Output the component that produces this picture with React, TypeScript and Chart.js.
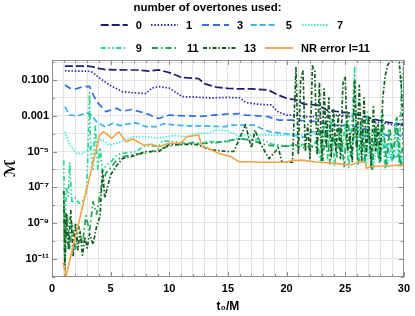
import React, { useEffect, useRef } from 'react';
import { Chart, registerables } from 'chart.js';

Chart.register(...registerables);

const FONT = '"Liberation Sans", Arial, Helvetica, sans-serif';

// ---------- data: each point is [t0/M, log10(mismatch)] ----------
const overtones0: [number, number][] = [
  [1.1, -0.22], [2, -0.22], [3, -0.22], [3.4, -0.25], [4, -0.35], [4.6, -0.42], [5.5, -0.43], [6.5, -0.44],
  [7.2, -0.44], [8.3, -0.5], [9.1, -0.43], [10.2, -0.62], [11, -0.85], [12, -0.9], [12.5, -0.92], [13, -1.2],
  [14, -1.4], [15, -1.47], [16, -1.5], [17, -1.5], [18.4, -1.55], [19.3, -1.84], [20.1, -2.05], [20.7, -2.1],
  [21.5, -2.35], [22.7, -2.4], [23.5, -2.7], [25.4, -2.85], [26.5, -3.0], [27.5, -3.2], [28.5, -3.35], [30, -3.5],
];
const overtones1: [number, number][] = [
  [1.1, -0.48], [2, -0.5], [3, -0.5], [3.4, -0.55], [4.06, -0.89], [4.9, -1.28], [6, -1.65], [7, -1.72],
  [8, -1.75], [8.5, -1.45], [9.1, -1.37], [10, -1.45], [11.1, -1.93], [12.2, -1.95], [13.5, -2.0], [15, -1.97],
  [16, -2.0], [16.5, -2.25], [17.5, -2.35], [18.7, -2.4], [19.3, -2.8], [20, -2.96], [20.7, -2.98], [21.5, -3.05],
  [23.5, -3.05], [24.5, -2.95], [25.4, -3.05], [26.5, -3.2], [27.5, -3.35], [28.3, -3.4], [29, -3.5], [30, -3.55],
];
const overtones3: [number, number][] = [
  [1.1, -1.28], [1.5, -1.45], [2, -1.5], [2.6, -1.38], [3.2, -1.35], [3.5, -1.8], [3.8, -2.2], [4.6, -2.77],
  [5.5, -2.58], [6, -2.75], [6.8, -2.65], [8, -2.87], [9.1, -3.15], [10, -2.96], [11.1, -3.0], [12.8, -3.03],
  [14, -2.95], [15, -2.9], [16, -2.88], [16.5, -2.96], [18.4, -3.05], [19.3, -3.24], [20.7, -3.24], [22, -3.3],
  [22.7, -3.33], [23.5, -3.52], [25.4, -3.55], [26.5, -3.7], [27.5, -3.9], [28.5, -4.1], [29.3, -4.0], [30, -4.2],
];
const overtones5: [number, number][] = [
  [1.1, -2.49], [1.5, -2.96], [2.2, -3.0], [2.9, -2.85], [3.2, -2.85], [3.8, -3.33], [4.5, -3.61], [5.2, -3.42],
  [5.8, -3.55], [6.5, -3.45], [7.2, -3.4], [8, -3.61], [8.9, -3.61], [9.5, -3.45], [10.6, -3.52], [11.5, -3.57],
  [13, -3.57], [14.2, -3.6], [14.8, -3.61], [15.3, -3.52], [17.2, -3.52], [17.8, -3.7], [18.6, -3.9], [19.9, -4.0],
  [21.4, -4.2], [22.1, -3.9], [23.5, -3.85], [24, -3.82], [26, -3.8], [26.5, -4.0], [27, -4.5], [27.5, -4.3],
  [28, -5.0], [28.5, -4.6], [29, -5.5], [29.5, -5.2], [30, -5.8],
];
const overtones7: [number, number][] = [
  [1.1, -3.89], [1.5, -4.64], [2.1, -5.1], [2.7, -5.1], [3.2, -4.82], [3.8, -4.36], [4.3, -4.36], [4.9, -4.64],
  [5.7, -4.5], [6.9, -4.17], [8, -4.17], [9.1, -4.25], [10.4, -4.1], [11.4, -4.17], [12.4, -3.98], [13.3, -3.98],
  [14, -3.8], [15, -3.85], [16, -4.17], [16.5, -4.08], [18, -4.08], [20, -4.08], [22, -4.05], [23.5, -4.08],
  [24, -4.6], [25.4, -4.8], [25.8, -4.2], [26.2, -5.5], [26.5, -3.9], [26.8, -5.8], [27.1, -4.5], [27.4, -6.0],
  [27.7, -4.3], [28, -5.6], [28.3, -4.0], [28.6, -5.9], [28.9, -4.6], [29.2, -5.3], [29.5, -4.2], [29.8, -5.7], [30, -4.8],
];
const overtones9: [number, number][] = [
  [1.0, -5.5], [1.1, -11.0], [1.2, -7.0], [1.4, -7.5], [1.5, -5.6], [1.7, -7.9], [2.0, -7.6], [2.3, -7.9],
  [2.6, -7.8], [2.9, -7.3], [3.05, -5.5], [3.2, -1.7], [3.3, -5.0], [3.5, -6.0], [3.7, -3.5], [3.9, -6.0],
  [4.1, -4.8], [4.3, -6.1], [4.6, -5.8], [5.0, -5.6], [5.5, -5.2], [6.0, -5.1], [7.2, -5.0], [7.8, -4.7],
  [9.1, -4.7], [9.4, -4.4], [11, -4.5], [11.5, -4.55], [12.8, -4.6], [13, -4.45], [15, -4.45], [15.5, -4.3],
  [17, -4.3], [18, -4.35], [18.8, -4.6], [20, -4.7], [20.7, -4.7], [21.5, -4.6], [22.3, -4.7],
  [22.6, -4.3], [22.9, -5.6], [23.2, -3.6], [23.5, -5.4], [23.8, -3.2], [24.1, -5.8], [24.4, -3.8], [24.7, -5.2],
  [25.0, -3.4], [25.3, -5.9], [25.6, -3.0], [25.8, -0.3], [26.0, -5.2], [26.3, -3.5], [26.6, -5.6], [26.9, -2.8],
  [27.2, -5.8], [27.5, -3.6], [27.8, -5.3], [28.1, -3.0], [28.4, -6.0], [28.7, -3.8], [29.0, -5.5], [29.3, -3.2],
  [29.6, -5.8], [29.8, -1.0], [30, -0.2],
];
const overtones11: [number, number][] = [
  [1.0, -8.0], [1.1, -11.2], [1.3, -8.5], [1.5, -10.5], [1.7, -9.0], [2.0, -10.5], [2.3, -9.2], [2.6, -10.2],
  [2.9, -8.6], [3.2, -9.5], [3.5, -7.8], [3.8, -8.5], [4.2, -7.0], [4.6, -6.2], [5.0, -5.9], [5.5, -5.5],
  [6, -5.3], [7, -5.15], [8, -5.1], [9, -4.9], [10, -4.7], [11, -4.6], [12, -4.5], [13, -4.55],
  [14, -4.5], [15, -4.4], [16, -4.3], [17, -4.35], [18, -4.6], [19, -4.7], [20, -4.7], [20.7, -4.6],
  [21.3, -4.8], [22, -4.7],
  [22.5, -4.8], [22.8, -3.8], [23.1, -5.5], [23.4, -3.3], [23.7, -5.7], [24.0, -4.0], [24.3, -5.3], [24.6, -3.5],
  [24.9, -5.9], [25.2, -2.8], [25.5, -5.4], [25.8, -3.6], [26.1, -5.8], [26.4, -3.2], [26.7, -5.5], [27.0, -3.9],
  [27.3, -6.0], [27.6, -3.4], [27.9, -5.6], [28.2, -2.9], [28.5, -5.8], [28.8, -3.7], [29.1, -5.4], [29.4, -3.1],
  [29.7, -5.9], [30, -4.0],
];
const overtones13: [number, number][] = [
  [1.0, -7.2], [1.1, -11.6], [1.2, -8.5], [1.4, -10.5], [1.6, -8.3], [1.8, -10.9], [2.0, -9.0], [2.2, -10.5],
  [2.4, -9.5], [2.6, -10.8], [2.8, -9.8], [3.0, -10.4], [3.2, -9.6], [3.5, -10.2], [3.8, -9.2], [4.1, -8.6],
  [4.3, -6.0], [4.5, -7.6], [5.0, -6.3], [5.5, -5.8], [6, -5.4], [7.2, -5.2], [8, -5.0], [9.1, -5.0],
  [10, -4.6], [12, -4.6], [12.5, -4.64], [13.5, -4.9], [15, -5.0], [15.5, -5.0], [16.5, -3.5], [17, -4.8],
  [17.3, -3.8], [17.8, -4.6], [18.5, -5.4], [19.3, -4.8], [19.6, -5.6], [20.3, -5.6],
  [20.5, -5.6], [20.8, -0.3], [21.0, -5.2], [21.2, -1.0], [21.4, -0.5], [21.6, -5.0], [21.8, -3.5], [22.0, -5.4],
  [22.2, -0.2], [22.4, -0.5], [22.6, -5.2], [22.8, -1.2], [23.0, -5.5], [23.2, -1.5], [23.4, -4.8], [23.6, -2.0],
  [23.8, -5.3], [24.0, -2.6], [24.2, -5.0], [24.4, -3.0], [24.6, -5.4], [24.8, -1.2], [25.0, -0.8], [25.2, -5.0],
  [25.4, -4.0], [25.6, -5.6], [25.8, -1.0], [26.0, -4.8], [26.2, -1.3], [26.4, -5.5], [26.6, -2.0], [26.8, -5.2],
  [27.0, -3.0], [27.2, -5.9], [27.4, -2.5], [27.6, -5.0], [27.8, -3.5], [28.0, -5.5], [28.2, -2.0], [28.4, -0.8],
  [28.6, -0.2], [28.8, 0.05], [29.0, 0.1], [29.2, 0.12], [29.4, 0.1], [29.6, 0.0], [29.8, -1.5], [30, -5.0],
];
const nrError11: [number, number][] = [
  [0.95, -11.2], [1.2, -11.95], [3.4, -5.9], [4.06, -4.08], [4.4, -3.9], [4.8, -4.1], [5.1, -4.26], [5.7, -3.9],
  [6.3, -4.45], [6.9, -4.3], [7.8, -4.64], [8.5, -4.6], [9.1, -4.73], [10, -4.54], [11, -4.54], [11.5, -4.17],
  [12.5, -4.08], [12.8, -4.73], [13.3, -4.82], [14.2, -5.1], [15.3, -5.3], [15.9, -5.57], [17, -5.57], [17.6, -5.6],
  [19.9, -5.6], [20.5, -5.5], [21.3, -5.48], [22.7, -5.6], [24, -5.65], [25.4, -5.75], [26.3, -5.57], [26.7, -5.6],
  [26.8, -5.94], [27.2, -5.85], [28.5, -5.8], [30, -5.76],
];

const seriesLabels = ['0', '1', '3', '5', '7', '9', '11', '13', 'NR error l=11'];
const seriesData = [overtones0, overtones1, overtones3, overtones5, overtones7, overtones9, overtones11, overtones13, nrError11];

// ---------- axis ticks ----------
const xGridValues = [0, 1, 2, 3, 4, 5, 6, 7, 8, 9, 10, 11, 12, 13, 14, 15, 16, 17, 18, 19, 20, 21, 22, 23, 24, 25, 26, 27, 28, 29, 30];
const xLabelValues = [0, 5, 10, 15, 20, 25, 30];
const yTickExponents = [-12, -11, -10, -9, -8, -7, -6, -5, -4, -3, -2, -1, 0];
const yTickLabels = ['', '10⁻¹¹', '', '10⁻⁹', '', '10⁻⁷', '', '10⁻⁵', '', '0.001', '', '0.100', ''];

// ---------- styles ----------
const seriesColors = ['#1e1e6e', '#2c2cb8', '#2f6fe8', '#3ab4f2', '#40f0d8', '#24d88c', '#22a050', '#135c20', '#f7a248'];
const seriesDashes = [[8, 3], [1.5, 1.8], [7, 4], [6, 3], [1.5, 1.5], [5, 2.5, 1.5, 2.5, 1.5, 2.5], [6, 3, 1.5, 3], [4, 2, 1.5, 2], []];
const legendRows = [[0, 1, 2, 3, 4], [5, 6, 7, 8]];
const legendRowY = [25, 48];
const legendItemX = [[100.7, 151, 202, 250.7, 302], [100.7, 152, 203, 265]];
const legendLineLen = [[27, 27, 27, 27, 27], [27, 27, 33, 28]];
const FRAME = '#8e8e8e';
const GRID = '#e4e4e4';

const decorPlugin = {
  id: 'decor',
  afterDatasetsDraw(chart: any) {
    const { ctx, chartArea: a, scales } = chart;
    const xs = scales.x;
    const ys = scales.y;
    ctx.save();
    ctx.strokeStyle = FRAME;
    ctx.lineWidth = 1;
    ctx.strokeRect(Math.round(a.left) + 0.5, Math.round(a.top) + 0.5, Math.round(a.right - a.left) - 1, Math.round(a.bottom - a.top) - 1);
    ctx.beginPath();
    xGridValues.forEach((v) => {
      const px = Math.round(xs.getPixelForValue(v)) + 0.5;
      const len = xLabelValues.includes(v) ? 5 : 3;
      ctx.moveTo(px, a.bottom);
      ctx.lineTo(px, a.bottom - len);
      ctx.moveTo(px, a.top);
      ctx.lineTo(px, a.top + len);
    });
    yTickExponents.forEach((e, i) => {
      const py = Math.round(ys.getPixelForValue(Math.pow(10, e))) + 0.5;
      const len = yTickLabels[i] ? 5 : 3;
      ctx.moveTo(a.left, py);
      ctx.lineTo(a.left + len, py);
      ctx.moveTo(a.right, py);
      ctx.lineTo(a.right - len, py);
    });
    ctx.stroke();
    ctx.restore();
  },
  afterDraw(chart: any) {
    const ctx = chart.ctx;
    ctx.save();
    ctx.fillStyle = '#000';
    ctx.textBaseline = 'middle';
    ctx.textAlign = 'center';
    ctx.font = `bold 11.5px ${FONT}`;
    ctx.fillText('number of overtones used:', 207.5, 8);
    ctx.textAlign = 'left';
    ctx.font = `bold 11px ${FONT}`;
    legendRows.forEach((row, r) => {
      const y = legendRowY[r];
      row.forEach((idx, k) => {
        const x = legendItemX[r][k];
        const len = legendLineLen[r][k];
        ctx.save();
        ctx.strokeStyle = seriesColors[idx];
        ctx.lineWidth = 1.8;
        ctx.setLineDash(seriesDashes[idx]);
        ctx.beginPath();
        ctx.moveTo(x, y);
        ctx.lineTo(x + len, y);
        ctx.stroke();
        ctx.restore();
        ctx.fillText(seriesLabels[idx], x + len + 8, y + 0.5);
      });
    });
    ctx.restore();
  },
};

export default function App() {
  const canvasRef = useRef<HTMLCanvasElement>(null);

  useEffect(() => {
    const canvas = canvasRef.current;
    if (!canvas) return;
    const datasets = seriesData.map((pts, i) => ({
      label: seriesLabels[i],
      data: pts.map(([t, e]) => ({ x: t, y: Math.pow(10, e) })),
      borderColor: seriesColors[i],
      backgroundColor: seriesColors[i],
      borderDash: seriesDashes[i],
      borderWidth: i === 8 ? 1.6 : 1.7,
      borderJoinStyle: 'round' as const,
      pointRadius: 0,
      tension: 0,
      fill: false,
      order: seriesData.length - i,
    }));

    const chart = new Chart(canvas, {
      type: 'line',
      data: { datasets },
      options: {
        responsive: false,
        animation: false,
        devicePixelRatio: 1,
        events: [],
        layout: { padding: { top: 60, right: 8, left: 0, bottom: 0 } },
        plugins: {
          legend: { display: false },
          title: { display: false },
          tooltip: { enabled: false },
        },
        scales: {
          x: {
            type: 'linear',
            min: 0,
            max: 30,
            afterBuildTicks: (axis: any) => {
              axis.ticks = xGridValues.map((v) => ({ value: v }));
            },
            afterFit: (axis: any) => {
              axis.height = 39;
            },
            ticks: {
              autoSkip: false,
              maxRotation: 0,
              padding: 5,
              color: '#000',
              font: { family: FONT, size: 11, weight: 'bold' },
              callback: (v: any) => (xLabelValues.includes(Number(v)) ? String(v) : ''),
            },
            grid: { color: GRID, drawTicks: false, lineWidth: 1 },
            border: { display: false },
            title: {
              display: true,
              text: 't₀/M',
              color: '#000',
              font: { family: FONT, size: 12, weight: 'bold' },
              padding: { top: 0, bottom: 2 },
            },
          },
          y: {
            type: 'logarithmic',
            min: 9.5e-13,
            max: 1.32,
            bounds: 'data',
            afterBuildTicks: (axis: any) => {
              axis.ticks = yTickExponents.map((e) => ({ value: Math.pow(10, e) }));
            },
            afterFit: (axis: any) => {
              axis.width = 52;
            },
            ticks: {
              autoSkip: false,
              padding: 3,
              color: '#000',
              font: { family: FONT, size: 11, weight: 'bold' },
              callback: (_v: any, index: number) => yTickLabels[index] ?? '',
            },
            grid: { color: GRID, drawTicks: false, lineWidth: 1 },
            border: { display: false },
            title: {
              display: true,
              text: 'ℳ',
              color: '#000',
              font: { family: '"DejaVu Sans", serif', size: 15, weight: 'bold' },
              padding: { top: 2, bottom: 0 },
            },
          },
        },
      },
      plugins: [decorPlugin],
    } as any);

    return () => chart.destroy();
  }, []);

  return (
    <div style={{ position: 'fixed', left: 0, top: 0, width: 415, height: 316, background: '#fff' }}>
      <canvas ref={canvasRef} width={415} height={316} style={{ display: 'block' }} />
    </div>
  );
}
